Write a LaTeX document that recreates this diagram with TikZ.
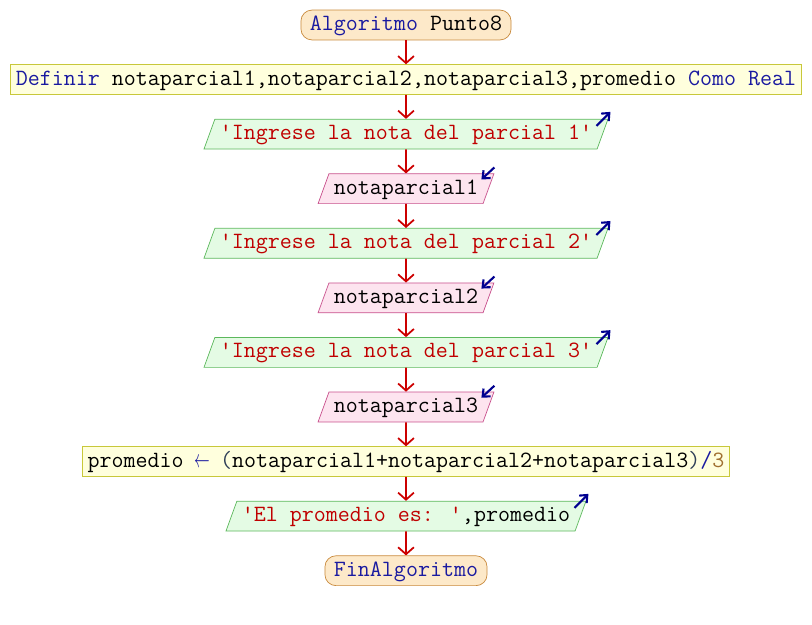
\documentclass[tikz,border=0pt]{standalone}
\usepackage{fontspec}
\usetikzlibrary{positioning,shapes.geometric,arrows.meta}
\definecolor{cterm}{HTML}{FDE9C9}
\definecolor{ctermline}{HTML}{C98A3C}
\definecolor{cproc}{HTML}{FFFFDD}
\definecolor{cprocline}{HTML}{C8C83A}
\definecolor{cout}{HTML}{E4FBE4}
\definecolor{coutline}{HTML}{5CB85C}
\definecolor{cin}{HTML}{FDE4EF}
\definecolor{cinline}{HTML}{C8508C}
\definecolor{ckey}{HTML}{1A1AA0}
\definecolor{cstr}{HTML}{C00000}
\definecolor{cnum}{HTML}{A07030}
\definecolor{cdel}{HTML}{304058}
\definecolor{cflow}{HTML}{CC0000}
\definecolor{cio}{HTML}{000090}
\newcommand{\pkey}[1]{\textcolor{ckey}{#1}}
\newcommand{\pstr}[1]{\textcolor{cstr}{#1}}
\newcommand{\pnum}[1]{\textcolor{cnum}{#1}}
\newcommand{\pdel}[1]{\textcolor{cdel}{#1}}
\newcommand{\pasig}{\makebox[0.525em]{\scalebox{0.62}[1]{$\leftarrow$}}}

\begin{document}
\begin{tikzpicture}[x=0.02cm,y=-0.02cm,node distance=0.48cm,
  every node/.style={font=\ttfamily\fontsize{13.27}{15}\selectfont,text height=9.2pt,text depth=3pt,inner ysep=2.4pt},
  term/.style={draw=ctermline,fill=cterm,rounded corners=0.22cm,inner xsep=0.18cm},
  proc/.style={draw=cprocline,fill=cproc,inner xsep=0.1cm},
  outp/.style={trapezium,trapezium left angle=70,trapezium right angle=110,draw=coutline,fill=cout,inner xsep=0.1cm},
  inp/.style={outp,draw=cinline,fill=cin},
  flow/.style={cflow,line width=1pt,-{Straight Barb[length=4pt,width=9pt]}},
  io/.style={cio,line width=1.2pt,-{Straight Barb[length=3.5pt,width=6pt]}}]
  \useasboundingbox (0,0) rectangle (812,625);
  \node[term] (inicio) at (406,25) {\pkey{Algoritmo} Punto8};
  \node[proc,below=of inicio] (defin) {\pkey{Definir} notaparcial1,notaparcial2,notaparcial3,promedio \pkey{Como Real}};
  \node[outp,below=of defin] (out1) {\pstr{'Ingrese la nota del parcial 1'}};
  \node[inp,below=of out1] (in1) {notaparcial1};
  \node[outp,below=of in1] (out2) {\pstr{'Ingrese la nota del parcial 2'}};
  \node[inp,below=of out2] (in2) {notaparcial2};
  \node[outp,below=of in2] (out3) {\pstr{'Ingrese la nota del parcial 3'}};
  \node[inp,below=of out3] (in3) {notaparcial3};
  \node[proc,below=of in3] (asig) {promedio \pkey{\pasig} \pdel{(}notaparcial1+notaparcial2+notaparcial3\pdel{)}\pkey{/}\pnum{3}};
  \node[outp,below=of asig] (out4) {\pstr{'El promedio es: '},promedio};
  \node[term,below=of out4] (fin) {\pkey{FinAlgoritmo}};
  % flujo
  \foreach \a/\b in {inicio/defin,defin/out1,out1/in1,in1/out2,out2/in2,in2/out3,out3/in3,in3/asig,asig/out4,out4/fin}
    \draw[flow] (\a) -- (\b);
  % marcas de entrada / salida
  \foreach \n in {out1,out2,out3,out4}
    \draw[io] ([shift={(-12,7)}]\n.top right corner) -- ([shift={(2,-7)}]\n.top right corner);
  \foreach \n in {in1,in2,in3}
    \draw[io] ([shift={(0,-6)}]\n.top right corner) -- ([shift={(-13,6)}]\n.top right corner);
\end{tikzpicture}
\end{document}
